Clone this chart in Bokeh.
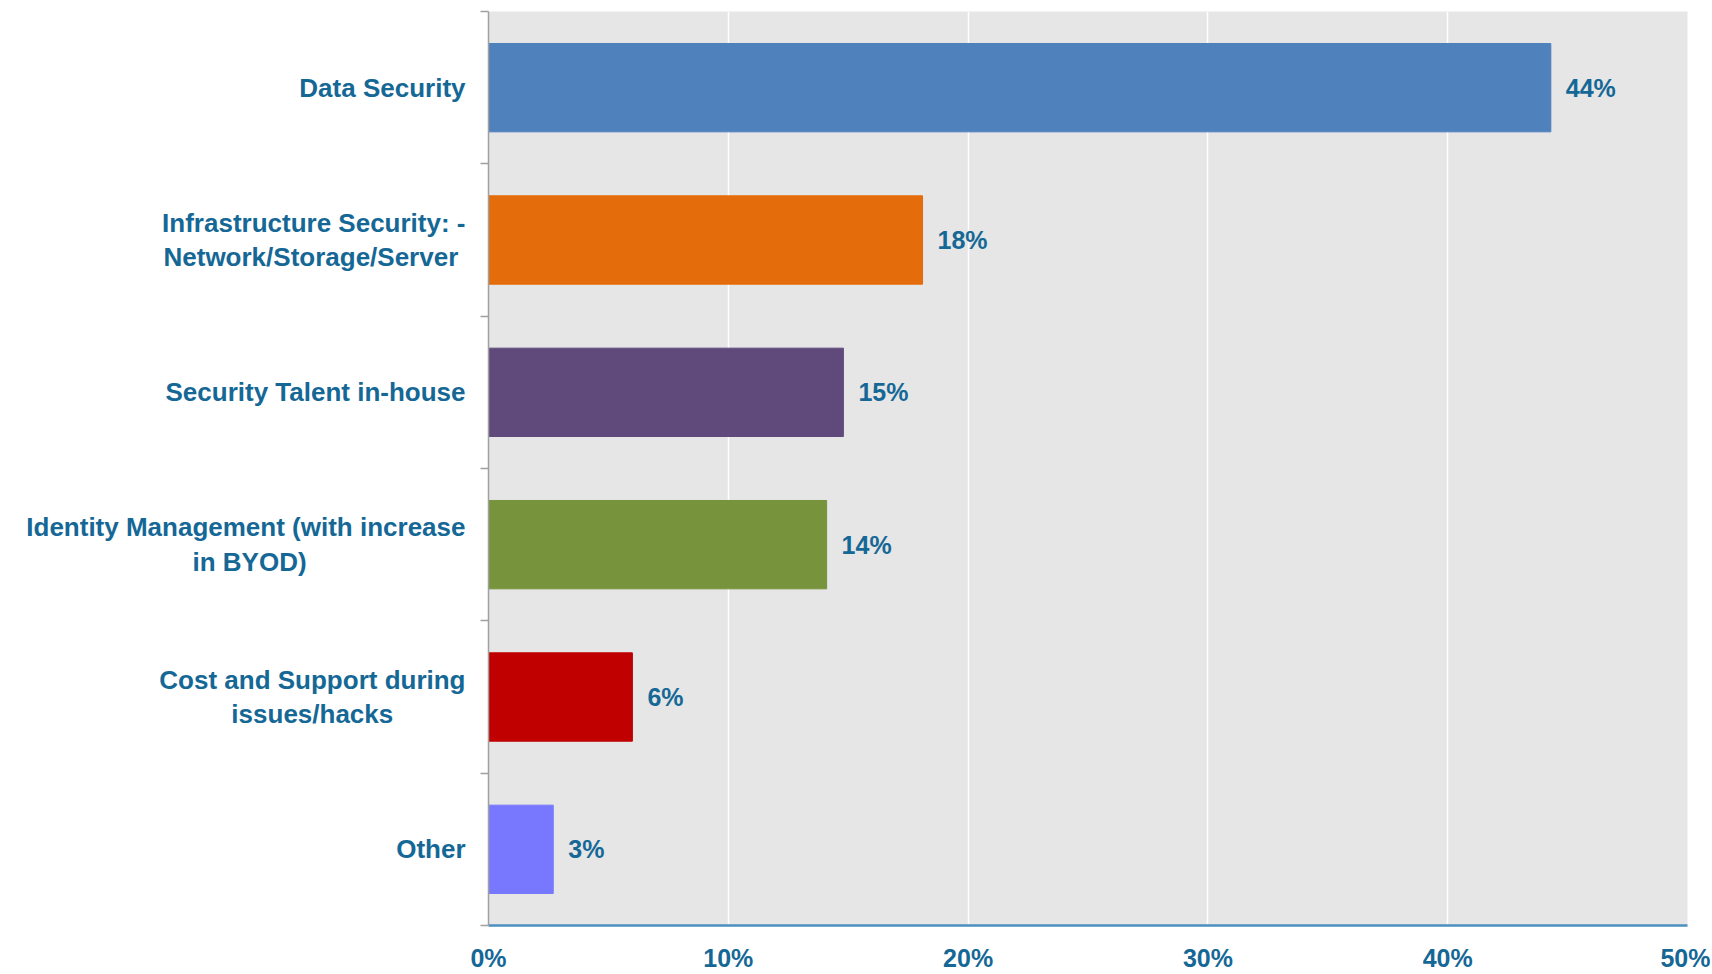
from bokeh.plotting import figure
from bokeh.models import (Range1d, LinearAxis, FixedTicker,
                          CustomJSTickFormatter, ColumnDataSource)
from bokeh.core.properties import value
from bokeh.embed import file_html
from bokeh.resources import INLINE

NB = "\u00a0"
categories = [
    "Data Security",
    "Infrastructure Security: -\nNetwork/Storage/Server" + NB,
    "Security Talent in-house",
    "Identity Management (with increase\nin BYOD)" + NB * 22,
    "Cost and Support during\nissues/hacks" + NB * 10,
    "Other",
]
values = [44.3, 18.1, 14.8, 14.1, 6.0, 2.7]
colors = ["#4F81BD", "#E46C0A", "#604A7B", "#77933C", "#C00000", "#7878FF"]
x_ticks = [0, 10, 20, 30, 40, 50]

TEXT = "#156896"
FONT = "Liberation Sans"

n = len(categories)
ypos = [n - i - 0.5 for i in range(n)]

src = ColumnDataSource(dict(y=ypos, val=values, color=colors,
                            lab=[f"{round(v)}%" for v in values]))

p = figure(width=1710, height=974, output_backend="svg", toolbar_location=None,
           y_range=Range1d(0, n), x_range=Range1d(0, 50),
           y_axis_location=None, x_axis_location=None,
           min_border_left=488, min_border_right=23, min_border_top=11,
           min_border_bottom=48,
           background_fill_color="#E6E6E6", border_fill_color="white",
           outline_line_color=None)

p.hbar(y="y", right="val", left=0, height=0.58, color="color", source=src)

p.text(x="val", y="y", text="lab", source=src, x_offset=15,
       text_baseline="middle", text_align="left",
       text_font=value(FONT), text_font_style="bold", text_font_size="25px",
       text_color=TEXT)

# grid
p.ygrid.visible = False
p.xgrid.ticker = FixedTicker(ticks=x_ticks)
p.xgrid.grid_line_color = "white"
p.xgrid.grid_line_width = 1.5

# x axis
xa = LinearAxis(ticker=FixedTicker(ticks=x_ticks),
                formatter=CustomJSTickFormatter(code="return tick + '%';"))
xa.axis_line_color = "#4A8FC0"
xa.axis_line_width = 2.5
xa.major_tick_line_color = None
xa.minor_tick_line_color = None
xa.major_label_standoff = 12
xa.major_label_text_font = FONT
xa.major_label_text_font_style = "bold"
xa.major_label_text_font_size = "25px"
xa.major_label_text_color = TEXT
p.add_layout(xa, "below")

# y axis with boundary ticks
ta = LinearAxis(ticker=FixedTicker(ticks=list(range(n + 1))),
                formatter=CustomJSTickFormatter(code="return '';"))
ta.axis_line_color = "#A0A0A0"
ta.axis_line_width = 1.5
ta.major_tick_line_color = "#A0A0A0"
ta.major_tick_line_width = 1.5
ta.major_tick_out = 8
ta.major_tick_in = 0
ta.minor_tick_line_color = None
ta.major_label_standoff = 0
p.add_layout(ta, "left")

# category labels
ca = LinearAxis(ticker=FixedTicker(ticks=ypos),
                major_label_overrides={y: c for y, c in zip(ypos, categories)})
ca.axis_line_color = None
ca.major_tick_line_color = None
ca.minor_tick_line_color = None
ca.major_label_standoff = 9
ca.major_label_text_font = FONT
ca.major_label_text_font_style = "bold"
ca.major_label_text_font_size = "26px"
ca.major_label_text_color = TEXT
ca.major_label_text_line_height = 1.15
p.add_layout(ca, "left")

open("out.html", "w").write(file_html(p, INLINE))
